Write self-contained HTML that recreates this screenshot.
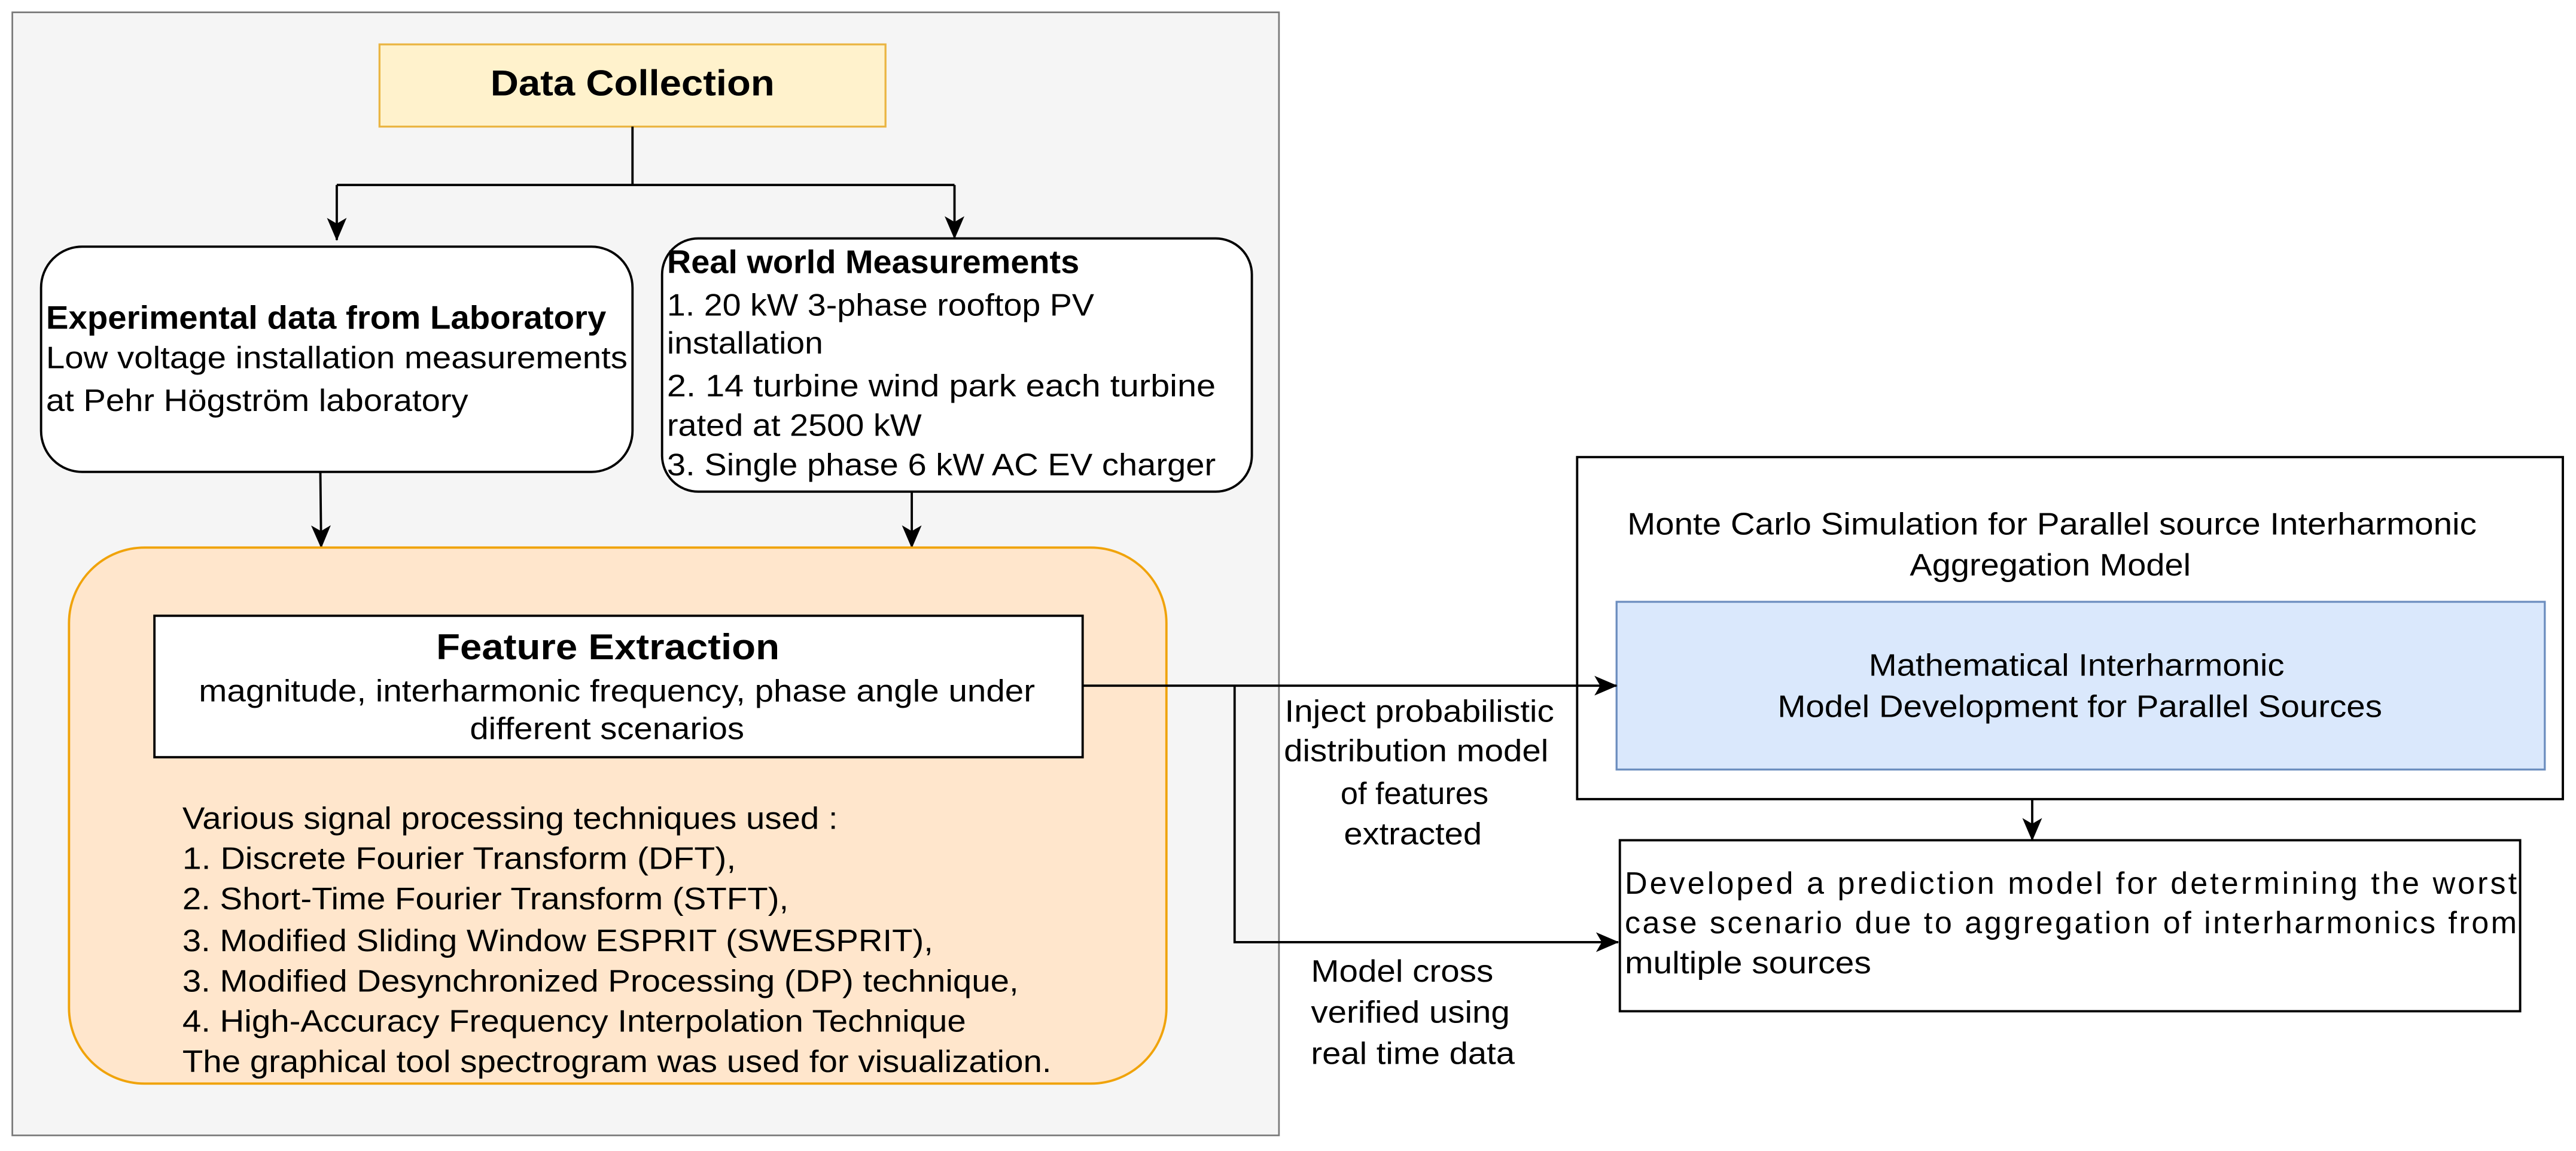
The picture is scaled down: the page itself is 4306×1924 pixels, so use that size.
<!DOCTYPE html>
<html><head><meta charset="utf-8"><style>
html,body{margin:0;padding:0;background:#fff;}
svg{display:block;}
text{font-family:"Liberation Sans",Arial,sans-serif;fill:#000;}
.b{font-weight:bold;}
</style></head><body>
<svg width="4306" height="1924" viewBox="0 0 1568 700" preserveAspectRatio="none" xmlns="http://www.w3.org/2000/svg">
<defs>
<marker id="ar" viewBox="0 0 14 12" refX="13.5" refY="6" markerWidth="14" markerHeight="12" markerUnits="userSpaceOnUse" orient="auto">
<path d="M0,0 L14,6 L0,12 L3.5,6 Z" fill="#000"/>
</marker>
</defs>
<rect x="0" y="0" width="1568" height="700" fill="#fff"/>
<rect x="7.5" y="7.5" width="771" height="683" fill="#f5f5f5" stroke="#7a7a7a" stroke-width="1"/>
<rect x="231" y="27" width="308" height="50" fill="#fff2cc" stroke="#eab543" stroke-width="1.2"/>
<text x="385" y="58" class="b" font-size="22" text-anchor="middle" textLength="173" lengthAdjust="spacingAndGlyphs">Data Collection</text>
<g stroke="#000" stroke-width="1.4" fill="none">
<path d="M385,77 V112.5 M205,112.5 H581" />
<path d="M205,112.5 V146" marker-end="url(#ar)"/>
<path d="M581,112.5 V145" marker-end="url(#ar)"/>
<path d="M195,287 L195.5,333" marker-end="url(#ar)"/>
<path d="M555,299 V333" marker-end="url(#ar)"/>
</g>
<rect x="25" y="150" width="360" height="137" rx="25" ry="25" fill="#fff" stroke="#000" stroke-width="1.4"/>
<text x="28" y="200" class="b" font-size="20" textLength="341" lengthAdjust="spacingAndGlyphs">Experimental data from Laboratory</text>
<text x="28" y="224" font-size="19" textLength="354" lengthAdjust="spacingAndGlyphs">Low voltage installation measurements</text>
<text x="28" y="250" font-size="19" textLength="257" lengthAdjust="spacingAndGlyphs">at Pehr Högström laboratory</text>
<rect x="403" y="145" width="359" height="154" rx="22" ry="22" fill="#fff" stroke="#000" stroke-width="1.4"/>
<text x="406" y="166" class="b" font-size="20" textLength="251" lengthAdjust="spacingAndGlyphs">Real world Measurements</text>
<text x="406" y="192" font-size="19" textLength="260" lengthAdjust="spacingAndGlyphs">1. 20 kW 3-phase rooftop PV</text>
<text x="406" y="215" font-size="19" textLength="95" lengthAdjust="spacingAndGlyphs">installation</text>
<text x="406" y="241" font-size="19" textLength="334" lengthAdjust="spacingAndGlyphs">2. 14 turbine wind park  each turbine</text>
<text x="406" y="265" font-size="19" textLength="155" lengthAdjust="spacingAndGlyphs">rated at 2500 kW</text>
<text x="406" y="289" font-size="19" textLength="334" lengthAdjust="spacingAndGlyphs">3. Single phase 6 kW AC EV charger</text>
<rect x="42" y="333" width="668" height="326" rx="46" ry="46" fill="#ffe6cc" stroke="#f0a30a" stroke-width="1.4"/>
<rect x="94" y="374.5" width="565" height="86" fill="#fff" stroke="#000" stroke-width="1.4"/>
<text x="370" y="401" class="b" font-size="22" text-anchor="middle" textLength="209" lengthAdjust="spacingAndGlyphs">Feature Extraction</text>
<text x="375.5" y="426.5" font-size="19" text-anchor="middle" textLength="509" lengthAdjust="spacingAndGlyphs">magnitude, interharmonic frequency, phase angle under</text>
<text x="369.5" y="449.5" font-size="19" text-anchor="middle" textLength="167" lengthAdjust="spacingAndGlyphs">different scenarios</text>
<g font-size="19">
<text x="111" y="504" textLength="399" lengthAdjust="spacingAndGlyphs">Various signal processing techniques used :</text>
<text x="111" y="528.5" textLength="337" lengthAdjust="spacingAndGlyphs">1.  Discrete Fourier Transform (DFT),</text>
<text x="111" y="553" textLength="369" lengthAdjust="spacingAndGlyphs">2. Short-Time Fourier Transform (STFT),</text>
<text x="111" y="578.5" textLength="457" lengthAdjust="spacingAndGlyphs">3. Modified Sliding Window ESPRIT (SWESPRIT),</text>
<text x="111" y="603" textLength="509" lengthAdjust="spacingAndGlyphs">3. Modified Desynchronized Processing (DP) technique,</text>
<text x="111" y="627.5" textLength="477" lengthAdjust="spacingAndGlyphs">4. High-Accuracy Frequency Interpolation Technique</text>
<text x="111" y="652" textLength="529" lengthAdjust="spacingAndGlyphs">The graphical tool spectrogram was used for visualization.</text>
</g>
<rect x="960" y="278" width="600" height="208" fill="#fff" stroke="#000" stroke-width="1.4"/>
<text x="1249" y="325" font-size="19" text-anchor="middle" textLength="517" lengthAdjust="spacingAndGlyphs">Monte Carlo Simulation for Parallel source Interharmonic</text>
<text x="1248" y="350" font-size="19" text-anchor="middle" textLength="171" lengthAdjust="spacingAndGlyphs">Aggregation Model</text>
<rect x="984" y="366" width="565" height="102" fill="#dae8fc" stroke="#6c8ebf" stroke-width="1.2"/>
<text x="1264" y="411" font-size="19" text-anchor="middle" textLength="253" lengthAdjust="spacingAndGlyphs">Mathematical Interharmonic</text>
<text x="1266" y="436" font-size="19" text-anchor="middle" textLength="368" lengthAdjust="spacingAndGlyphs">Model Development for Parallel Sources</text>
<rect x="986" y="511" width="548" height="104" fill="#fff" stroke="#000" stroke-width="1.4"/>
<text x="989" y="543.5" font-size="19" textLength="543" lengthAdjust="spacing">Developed a prediction model for determining the worst</text>
<text x="989" y="567.5" font-size="19" textLength="543" lengthAdjust="spacing">case scenario due to aggregation of interharmonics from</text>
<text x="989" y="592" font-size="19" textLength="150" lengthAdjust="spacingAndGlyphs">multiple sources</text>
<g stroke="#000" stroke-width="1.4" fill="none">
<path d="M659,417 H984" marker-end="url(#ar)"/>
<path d="M751.5,417 V573 H985" marker-end="url(#ar)"/>
<path d="M1237,486 V511" marker-end="url(#ar)"/>
</g>
<g font-size="19" text-anchor="middle">
<text x="864" y="439" textLength="164" lengthAdjust="spacingAndGlyphs">Inject probabilistic</text>
<text x="862" y="463" textLength="161" lengthAdjust="spacingAndGlyphs">distribution model</text>
<text x="861" y="489" textLength="90" lengthAdjust="spacingAndGlyphs">of features</text>
<text x="860" y="513.5" textLength="84" lengthAdjust="spacingAndGlyphs">extracted</text>
</g>
<g font-size="19">
<text x="798" y="597" textLength="111" lengthAdjust="spacingAndGlyphs">Model cross</text>
<text x="798" y="622" textLength="121" lengthAdjust="spacingAndGlyphs">verified using</text>
<text x="798" y="647" textLength="124" lengthAdjust="spacingAndGlyphs">real time data</text>
</g>
</svg>
</body></html>
